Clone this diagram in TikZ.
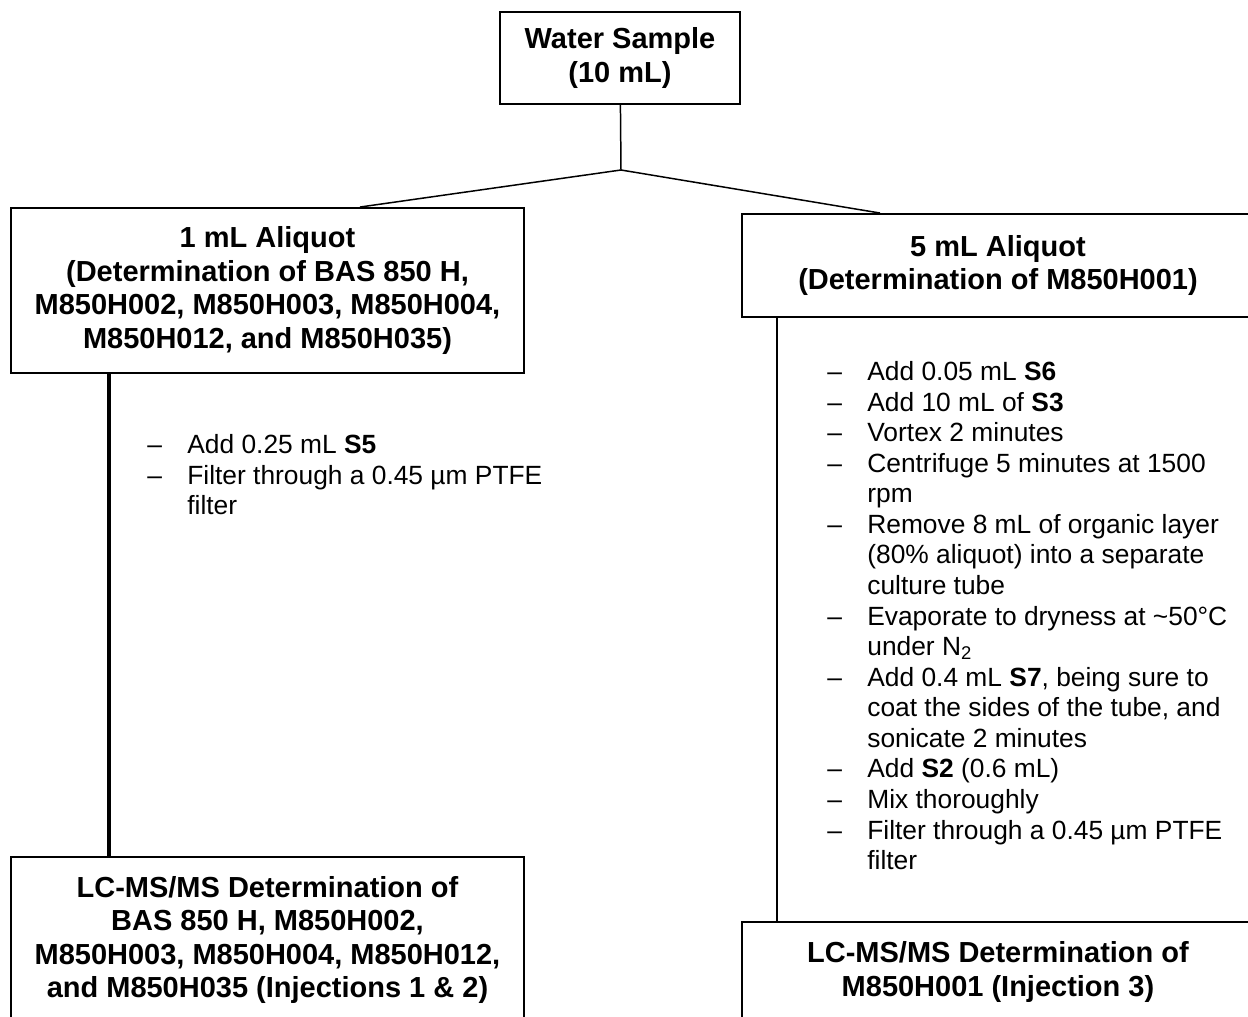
\documentclass[tikz,border=0pt]{standalone}
\usepackage{fontspec}
\setmainfont{Liberation Sans}
\usetikzlibrary{positioning,calc}
\newcommand{\dashitem}{\makebox[0.8cm][l]{--}}
\newcommand{\contline}{\hspace*{0.8cm}}
\tikzset{
  flowbox/.style={draw=black,fill=white,line width=1.1pt,align=center,
                  inner sep=0pt,font=\fontsize{16.5}{19.1}\selectfont\bfseries},
  notelist/.style={align=left,inner sep=0pt,anchor=north west,
                   font=\fontsize{15}{17.4}\selectfont},
  thinlink/.style={line width=0.85pt,draw=black},
  thicklink/.style={line width=2pt,draw=black}
}
\begin{document}
\begin{tikzpicture}[x=0.02cm,y=-0.02cm]
  \useasboundingbox (0,0) rectangle (1248,1017);
  \clip (0,0) rectangle (1248,1017);

  \node[flowbox,minimum width=4.8cm,minimum height=1.84cm] (water) at (620,58)
    {Water Sample\\(10 mL)};
  \node[flowbox,minimum width=10.26cm,minimum height=3.3cm] (aliqone) at (267.5,290.5)
    {1 mL Aliquot\\
     (Determination of BAS 850 H,\\
     M850H002, M850H003, M850H004,\\
     M850H012, and M850H035)};
  \node[flowbox,minimum width=10.24cm,minimum height=2.06cm] (aliqfive) at (998,265.5)
    {5 mL Aliquot\\(Determination of M850H001)};
  \node[flowbox,minimum width=10.26cm,minimum height=3.32cm] (lcmsone) at (267.5,940)
    {LC-MS/MS Determination of\\
     BAS 850 H, M850H002,\\
     M850H003, M850H004, M850H012,\\
     and M850H035 (Injections 1 \& 2)};
  \node[flowbox,minimum width=10.24cm,minimum height=2.0cm] (lcmsthree) at (998,972)
    {LC-MS/MS Determination of\\M850H001 (Injection 3)};

  % split of the sample
  \coordinate (split) at (621,170);
  \draw[thinlink] (water) -- (split);
  \draw[thinlink] (split) -- ([xshift=1.85cm]aliqone.north);
  \draw[thinlink] (split) -- ([xshift=-2.36cm]aliqfive.north);

  % preparation steps
  \draw[thicklink] ([xshift=1.98cm]aliqone.south west) -- ([xshift=1.98cm]lcmsone.north west);
  \draw[thinlink] ([xshift=0.72cm]aliqfive.south west) -- ([xshift=0.72cm]lcmsthree.north west);

  \node[notelist] (stepsone) at (147,434)
    {\dashitem Add 0.25 mL \textbf{S5}\\
     \dashitem Filter through a 0.45 µm PTFE\\
     \contline filter};
  \node[notelist] (stepsfive) at (827,361)
    {\dashitem Add 0.05 mL \textbf{S6}\\
     \dashitem Add 10 mL of \textbf{S3}\\
     \dashitem Vortex 2 minutes\\
     \dashitem Centrifuge 5 minutes at 1500\\
     \contline rpm\\
     \dashitem Remove 8 mL of organic layer\\
     \contline (80\% aliquot) into a separate\\
     \contline culture tube\\
     \dashitem Evaporate to dryness at \textasciitilde 50°C\\
     \contline under N\textsubscript{2}\\
     \dashitem Add 0.4 mL \textbf{S7}, being sure to\\
     \contline coat the sides of the tube, and\\
     \contline sonicate 2 minutes\\
     \dashitem Add \textbf{S2} (0.6 mL)\\
     \dashitem Mix thoroughly\\
     \dashitem Filter through a 0.45 µm PTFE\\
     \contline filter};
\end{tikzpicture}
\end{document}
